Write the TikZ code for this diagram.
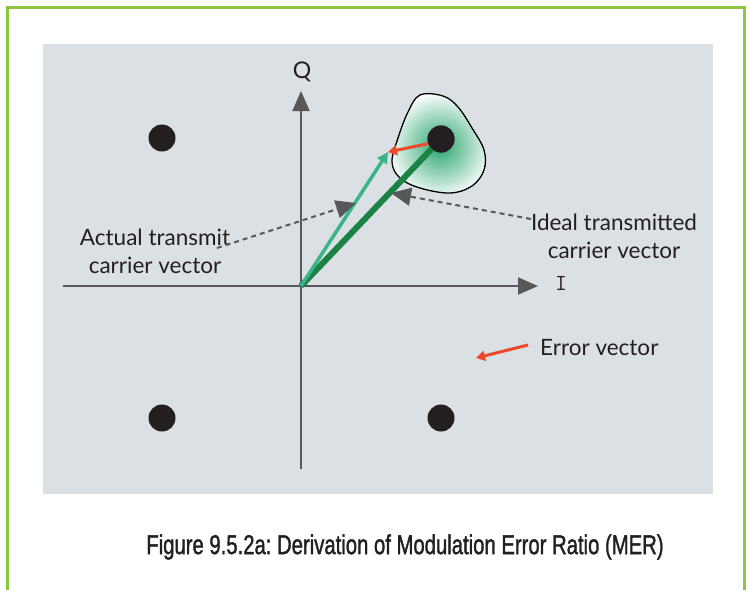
\documentclass[tikz,border=0pt]{standalone}
\usepackage{fontspec}
\setmainfont{Lato}
\newfontfamily\capfont{Liberation Sans}[FakeBold=1.6]
\usetikzlibrary{arrows.meta}
\definecolor{panel}{RGB}{219,224,229}
\definecolor{frame}{RGB}{141,198,63}
\definecolor{axis}{RGB}{88,88,90}
\definecolor{ideal}{RGB}{26,130,68}
\definecolor{actual}{RGB}{58,180,138}
\definecolor{errc}{RGB}{238,72,40}
\definecolor{blobg}{RGB}{40,165,110}
\definecolor{ink}{RGB}{35,31,32}
\tikzset{
  axisline/.style={draw=axis, line width=2pt, -{Triangle[length=20pt,width=17pt]}},
  pointer/.style={draw=axis, line width=2pt, dash pattern=on 5pt off 4pt, -{Triangle[length=20pt,width=18pt]}},
  symbol/.style={circle, fill=ink, minimum size=27pt, inner sep=0pt},
  lbl/.style={font=\fontsize{22.5}{28}\selectfont, text=ink, align=center, inner sep=0pt},
}
\begin{document}
\frenchspacing
\begin{tikzpicture}[x=1pt,y=-1pt]
\useasboundingbox (0,0) rectangle (749,589);
\fill[white] (0,0) rectangle (749,589);
\draw[frame, line width=3pt] (7,592) -- (7,7) -- (744,7) -- (744,592);
\fill[panel] (43,44) rectangle (713,494);
% blob
\begin{scope}
\clip plot[smooth cycle, tension=0.6] coordinates {(420,95) (443,96) (458,107) (472,128) (484,150) (484,170) (472,186) (450,193) (420,188) (400,178) (392,162) (398,138) (408,112)};
\shade[inner color=blobg, outer color=white] (440,146) circle (54);
\end{scope}
\draw[black, line width=1.3pt]
  plot[smooth cycle, tension=0.6] coordinates {(420,95) (443,96) (458,107) (472,128) (484,150) (484,170) (472,186) (450,193) (420,188) (400,178) (392,162) (398,138) (408,112)};
% axes
\coordinate (O) at (301,286);
\coordinate (ybot) at (301,469);
\coordinate (ytop) at (301,91);
\coordinate (xl) at (63,286);
\coordinate (xr) at (538,286);
\draw[axisline] (ybot) -- (ytop);
\draw[axisline] (xl) -- (xr);
\node[font=\fontsize{23}{24}\selectfont, text=ink] (Q) at (302,72) {Q};
\node[font=\ttfamily\fontsize{23}{24}\selectfont, text=ink] (I) at (561,283) {I};
% symbols
\node[symbol] (s1) at (162,138) {};
\node[symbol] (s2) at (162,418) {};
\node[symbol] (s3) at (441,418) {};
\node[symbol] (s4) at (441,139) {};
% vectors
\coordinate (tipA) at (388,152);
\draw[ideal, line width=6pt] (O) -- (s4.center);
\node[symbol] at (s4) {};
\draw[actual, line width=3.5pt, -{Triangle[length=11pt,width=11pt]}] (O) -- (tipA);
\draw[errc, line width=3pt, -{Triangle[length=9pt,width=10pt]}] (s4.200) -- (tipA);
% labels
\node[lbl] (actual) at (155,251) {Actual transmit\\carrier vector};
\node[lbl] (ideal) at (614,236) {Ideal transmitted\\carrier vector};
\node[lbl, anchor=west] (err) at (540,348) {Error vector};
\coordinate (aS) at (217,248);
\coordinate (aT) at (356,203);
\coordinate (iS) at (531,219);
\coordinate (iT) at (391,193);
\draw[pointer] (aS) -- (aT);
\draw[pointer] (iS) -- (iT);
\coordinate (eS) at (528,345);
\coordinate (eT) at (476,358);
\draw[errc, line width=3pt, -{Triangle[length=9pt,width=10pt]}] (eS) -- (eT);
% caption
\node[text=ink] (cap) at (405,547) {\scalebox{0.78}[1.05]{\capfont\fontsize{26}{30}\selectfont Figure 9.5.2a: Derivation of Modulation Error Ratio (MER)}};
\end{tikzpicture}
\end{document}
